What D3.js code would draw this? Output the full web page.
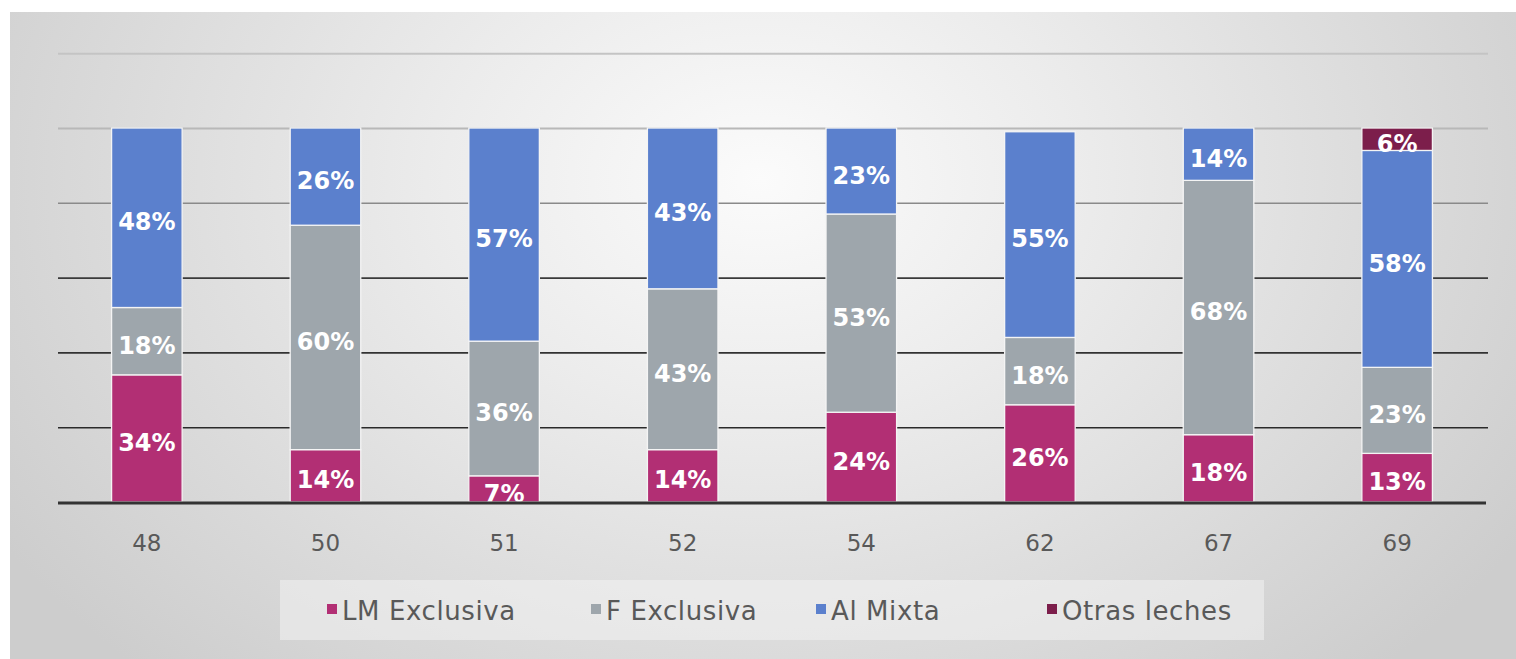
<!DOCTYPE html>
<html>
<head>
<meta charset="utf-8">
<script src="https://cdn.jsdelivr.net/npm/d3@7"></script>
<style>
  html, body { margin: 0; padding: 0; background: #ffffff; }
  svg { display: block; }
</style>
</head>
<body>
<svg id="chart" width="1516" height="659"></svg>
<script>
const categories = ["48", "50", "51", "52", "54", "62", "67", "69"];
const seriesNames = ["LM Exclusiva", "F Exclusiva", "Al Mixta", "Otras leches"];
const lmExclusiva = [34, 14, 7, 14, 24, 26, 18, 13];
const fExclusiva  = [18, 60, 36, 43, 53, 18, 68, 23];
const alMixta     = [48, 26, 57, 43, 23, 55, 14, 58];
const otrasLeches = [0, 0, 0, 0, 0, 0, 0, 6];
const yTicks = [0, 20, 40, 60, 80, 100, 120];
const colors = ["#b22f74", "#9ea6ac", "#5b80cd", "#7c1e4b"];

const svg = d3.select("#chart");
const W = 1516, H = 659;

// background panel
const defs = svg.append("defs");
const rg = defs.append("radialGradient").attr("id", "bg")
  .attr("gradientUnits", "userSpaceOnUse")
  .attr("cx", 760).attr("cy", 180).attr("r", 900)
  .attr("gradientTransform", "translate(760,180) scale(1,0.75) translate(-760,-180)");
rg.append("stop").attr("offset", "0").attr("stop-color", "#fbfbfb");
rg.append("stop").attr("offset", "0.35").attr("stop-color", "#ececec");
rg.append("stop").attr("offset", "1").attr("stop-color", "#cdcdcd");
svg.append("rect").attr("x", 10).attr("y", 12).attr("width", W - 10).attr("height", H - 12)
  .attr("fill", "url(#bg)");

const margin = { left: 58, right: 30, top: 52, bottom: 157 };
const x = d3.scaleBand().domain(categories).range([margin.left, W - margin.right]).paddingInner(0.605).paddingOuter(0.3);
const y = d3.scaleLinear().domain([0, 120]).range([502, 502 - 120 * 3.74]);

const data = categories.map((c, i) => ({
  cat: c,
  "LM Exclusiva": lmExclusiva[i],
  "F Exclusiva": fExclusiva[i],
  "Al Mixta": alMixta[i],
  "Otras leches": otrasLeches[i]
}));
const stacked = d3.stack().keys(seriesNames)(data);

// gridlines
const gridColor = d3.scaleLinear().domain([120, 100, 80, 60, 20]).range(["#c4c4c4", "#b8b8b8", "#8a8a8a", "#3a3a3a", "#2a2a2a"]);
const gridAxis = d3.axisLeft(y).tickValues(yTicks.filter(t => t > 0)).tickSize(-(W - margin.right - margin.left + 2)).tickFormat("");
const gg = svg.append("g").attr("transform", `translate(${margin.left},0)`).call(gridAxis);
gg.select(".domain").remove();
gg.selectAll(".tick line").attr("stroke", d => gridColor(d)).attr("stroke-width", d => d >= 100 ? 2 : 1.6);

// bars
const groups = svg.append("g").selectAll("g").data(stacked).join("g")
  .attr("fill", (d, i) => colors[i]);
groups.selectAll("rect").data(d => d.filter(s => s[1] - s[0] > 0)).join("rect")
  .attr("x", d => x(d.data.cat))
  .attr("width", x.bandwidth())
  .attr("y", d => y(d[1]))
  .attr("height", d => y(d[0]) - y(d[1]))
  .attr("stroke", "#f4f4f4").attr("stroke-width", 1.3);

// labels
const labelFont = "'DejaVu Sans', Lato, sans-serif";
stacked.forEach((s) => {
  svg.append("g").selectAll("text").data(s.filter(d => d[1] - d[0] > 0)).join("text")
    .attr("x", d => x(d.data.cat) + x.bandwidth() / 2)
    .attr("y", d => (y(d[0]) + y(d[1])) / 2 + 4)
    .attr("dy", "0.36em")
    .attr("text-anchor", "middle")
    .attr("font-family", labelFont)
    .attr("font-weight", "bold")
    .attr("font-size", 24)
    .attr("fill", "#ffffff")
    .text(d => (d[1] - d[0]) + "%");
});

// x axis
const xAxis = d3.axisBottom(x).tickSize(0).tickPadding(33);
const xg = svg.append("g").attr("transform", `translate(0,${y(0)})`).call(xAxis);
xg.select(".domain").remove();
xg.selectAll("text").attr("font-family", labelFont).attr("font-size", 23).attr("fill", "#595959");
svg.append("line").attr("x1", margin.left).attr("x2", W - margin.right).attr("y1", y(0) + 1).attr("y2", y(0) + 1)
  .attr("stroke", "#333333").attr("stroke-width", 3);

// legend
svg.append("rect").attr("x", 280).attr("y", 580).attr("width", 984).attr("height", 60)
  .attr("fill", "#f3f3f3").attr("opacity", 0.55);
const legendX = [327, 591, 816, 1047];
const lg = svg.append("g").selectAll("g").data(seriesNames).join("g")
  .attr("transform", (d, i) => `translate(${legendX[i]},611)`);
lg.append("rect").attr("x", 0).attr("y", -7).attr("width", 10).attr("height", 10).attr("fill", (d, i) => colors[i]);
lg.append("text").attr("x", 15).attr("y", 0).attr("dy", "0.35em")
  .attr("font-family", labelFont).attr("font-size", 26).attr("letter-spacing", 0.6).attr("fill", "#595959")
  .text(d => d);
</script>
</body>
</html>
